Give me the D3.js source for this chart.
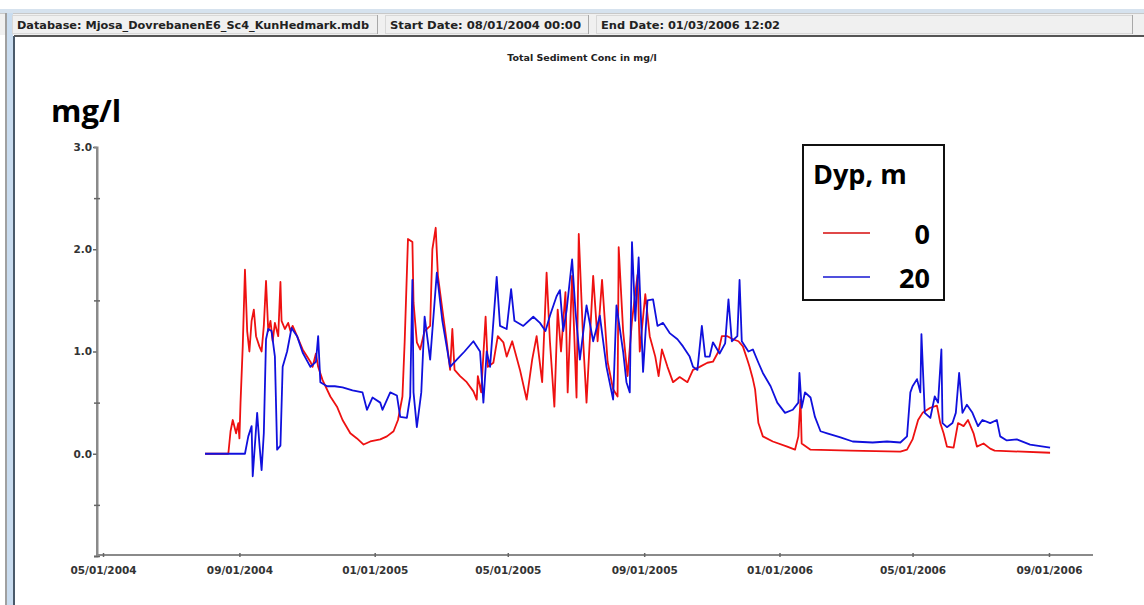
<!DOCTYPE html>
<html><head><meta charset="utf-8">
<script src="https://cdn.jsdelivr.net/npm/d3@7"></script>
<style>
html,body{margin:0;padding:0;background:#fff;}
svg{display:block;}
</style></head>
<body>
<svg id="c" width="1144" height="605"></svg>
<script>
// ---- data (days since 08/01/2004, value in mg/l) ----
const startDate = Date.UTC(2004, 7, 1);
const redDays = [0,21,23,25,28,30,31,32,34,36,38,40,42,44,46,49,51,53,55,57,59,61,63,66,68,69,72,75,77,79,83,88,95,97,100,102,106,113,119,124,131,137,143,149,158,164,170,174,178,180,183,187,188,191,194,198,203,205,208,210,214,218,221,223,225,230,236,242,245,246,249,253,255,260,264,269,272,277,284,290,295,299,304,308,311,315,318,321,325,327,331,335,337,341,344,350,354,358,363,368,372,373,377,381,385,390,392,397,401,406,409,412,417,422,428,435,440,446,453,458,463,466,471,476,481,485,489,491,494,496,499,503,512,525,532,535,537,538,546,582,627,633,638,643,647,654,660,663,666,669,675,679,684,688,693,696,702,708,712,762];
const redValues = [0,0,0.22,0.33,0.2,0.3,0.15,0.5,1.05,1.8,1.2,1.0,1.3,1.41,1.15,1.05,1.0,1.25,1.69,1.2,1.3,1.1,1.28,1.15,1.68,1.3,1.22,1.28,1.2,1.25,1.15,1.02,0.9,0.85,0.98,0.85,0.72,0.56,0.46,0.33,0.2,0.15,0.09,0.12,0.14,0.17,0.22,0.33,0.56,1.09,2.1,2.07,1.48,1.09,1.02,1.2,1.25,2.0,2.21,1.74,1.41,1.09,0.82,1.22,0.82,0.76,0.7,0.61,0.53,0.76,0.6,1.34,0.85,0.89,1.15,1.09,0.95,1.1,0.82,0.53,0.92,1.15,0.7,1.77,1.1,0.46,1.41,1.0,1.58,0.6,1.74,0.55,2.15,1.1,0.5,1.74,1.1,1.7,0.9,0.63,0.56,2.02,1.2,0.76,1.3,1.75,1.0,1.56,1.15,0.95,0.76,1.02,0.85,0.7,0.75,0.7,0.82,0.85,0.89,0.9,1.0,1.15,1.15,1.12,1.1,1.05,0.92,0.85,0.73,0.63,0.3,0.17,0.12,0.07,0.04,0.17,0.53,0.1,0.04,0.03,0.02,0.04,0.14,0.33,0.4,0.45,0.47,0.3,0.2,0.07,0.06,0.3,0.27,0.33,0.2,0.07,0.1,0.05,0.03,0.01];
const blueDays = [0,36,39,42,43,47,49,51,53,55,57,60,63,65,68,70,74,78,83,88,95,100,102,104,110,117,124,133,142,146,151,158,160,167,173,176,182,185,187,188,191,195,198,203,209,214,221,227,234,242,248,251,254,257,263,266,272,276,279,287,296,302,307,311,317,320,323,326,331,334,338,344,350,356,362,368,371,377,380,383,385,388,391,395,399,404,408,413,419,426,431,437,440,444,448,451,455,458,464,469,472,475,480,482,484,490,494,499,503,510,516,523,530,535,536,538,541,546,550,555,561,573,584,602,615,627,633,636,638,642,645,646,649,654,658,661,664,665,669,674,677,680,683,687,692,697,701,708,714,717,723,732,744,762];
const blueValues = [0,0,0.17,0.27,-0.22,0.4,0.1,-0.16,0.2,1.12,1.22,1.2,0.95,0.04,0.08,0.85,1.0,1.23,1.15,0.99,0.85,0.9,1.15,0.7,0.66,0.66,0.65,0.62,0.6,0.43,0.55,0.5,0.43,0.6,0.57,0.36,0.35,0.56,1.7,0.6,0.26,0.6,1.34,0.92,1.77,1.3,0.85,0.92,1.0,1.1,1.0,0.5,1.0,0.85,1.73,1.25,1.22,1.61,1.3,1.25,1.34,1.28,1.2,1.35,1.54,1.6,1.2,1.4,1.9,1.4,0.92,1.45,1.1,1.35,0.85,0.53,1.45,1.0,0.7,0.6,2.07,1.3,1.92,0.8,1.5,1.51,1.25,1.28,1.18,1.12,1.05,0.95,0.85,0.82,1.25,0.95,0.95,1.09,0.98,1.08,1.51,1.1,1.15,1.7,1.1,1.0,1.02,0.89,0.79,0.66,0.5,0.4,0.43,0.5,0.79,0.45,0.6,0.55,0.36,0.22,0.2,0.16,0.12,0.11,0.12,0.11,0.17,0.6,0.66,0.73,0.6,1.17,0.4,0.35,0.56,0.5,1.02,0.3,0.26,0.3,0.4,0.79,0.4,0.48,0.4,0.27,0.33,0.3,0.33,0.17,0.13,0.14,0.09,0.06];
const yMajorTicks = [0, 1, 2, 3];
const yMinorTicks = [-1, -0.5, 0.5, 1.5, 2.5];
const xTickDates = ["2004-05-01","2004-09-01","2005-01-01","2005-05-01","2005-09-01","2006-01-01","2006-05-01","2006-09-01"];
const xTickLabels = ["05/01/2004","09/01/2004","01/01/2005","05/01/2005","09/01/2005","01/01/2006","05/01/2006","09/01/2006"];
const seriesNames = ["0", "20"];
const seriesColors = ["#ee1111", "#1010dd"];
const legendColors = ["#e04848", "#5050dd"];
const statusTexts = ["Database: Mjosa_DovrebanenE6_Sc4_KunHedmark.mdb", "Start Date: 08/01/2004 00:00", "End Date: 01/03/2006 12:02"];
const chartTitle = "Total Sediment Conc in mg/l";
const unitLabel = "mg/l";
const legendTitle = "Dyp, m";

const svg = d3.select("#c");
const toDate = d => new Date(startDate + d * 864e5);

// ---- window frame ----
svg.append("rect").attr("x",0).attr("y",0).attr("width",1144).attr("height",605).attr("fill","#fff");
svg.append("rect").attr("x",0).attr("y",9).attr("width",1144).attr("height",4).attr("fill","#d6e2ee");
svg.append("rect").attr("x",0).attr("y",13).attr("width",1144).attr("height",22).attr("fill","#f0f0f0");
svg.append("line").attr("x1",0).attr("x2",1144).attr("y1",13.5).attr("y2",13.5).attr("stroke","#c8c8c8");
svg.append("line").attr("x1",14).attr("x2",1144).attr("y1",36).attr("y2",36).attr("stroke","#555").attr("stroke-width",2);
// left frame
svg.append("rect").attr("x",5).attr("y",13).attr("width",2).attr("height",592).attr("fill","#a0a0a0");
svg.append("rect").attr("x",7).attr("y",13).attr("width",6).attr("height",592).attr("fill","#c9dcef");
svg.append("rect").attr("x",13).attr("y",36).attr("width",2).attr("height",569).attr("fill","#4a5a6a");
// status panels
const panelX = [12, 385, 596];
const panelW = [369, 207, 540];
panelX.forEach((px, i) => {
  svg.append("rect").attr("x",px+0.5).attr("y",15.5).attr("width",panelW[i]-4).attr("height",18)
    .attr("fill","none").attr("stroke","#d8d8d8");
  svg.append("line").attr("x1",px+panelW[i]-3.5).attr("x2",px+panelW[i]-3.5).attr("y1",15).attr("y2",34).attr("stroke","#a8a8a8");
  svg.append("text").attr("x",px+5).attr("y",29).text(statusTexts[i])
    .attr("font-family","DejaVu Sans").attr("font-weight","bold").attr("font-size",10.5)
    .attr("fill","#222").attr("textLength", i===0?352:(i===1?191:179)).attr("lengthAdjust","spacingAndGlyphs");
});

// ---- scales ----
const x = d3.scaleUtc()
  .domain([new Date(Date.UTC(2004,3,25,14)), new Date(Date.UTC(2006,9,10,17))])
  .range([97, 1093]);
const y = d3.scaleLinear().domain([-1, 3]).range([556, 147]);

// title & unit
svg.append("text").attr("x",582).attr("y",61).attr("text-anchor","middle").text(chartTitle)
  .attr("font-family","DejaVu Sans").attr("font-weight","bold").attr("font-size",9.5).attr("fill","#222");
svg.append("text").attr("x",51).attr("y",122).text(unitLabel)
  .attr("font-family","Open Sans").attr("font-weight","bold").attr("font-size",31).attr("fill","#000");

// ---- axes ----
const axisColor = "#8a8a8a";
const gy = svg.append("g").attr("transform","translate(97,0)")
  .call(d3.axisLeft(y).tickValues(yMajorTicks).tickFormat(d3.format(".1f")).tickSize(4).tickPadding(1));
const gyMinor = svg.append("g").attr("transform","translate(97,0)")
  .call(d3.axisLeft(y).tickValues(yMinorTicks).tickFormat("").tickSize(3));
gyMinor.selectAll(".tick line").attr("x2",3).attr("x1",-3);
const gx = svg.append("g").attr("transform","translate(0,555)")
  .call(d3.axisBottom(x).tickValues(xTickDates.map(s => new Date(s+"T00:00:00Z")))
        .tickFormat((d,i) => xTickLabels[i]).tickSize(3).tickPadding(9));
gx.selectAll(".tick line").attr("y1",-2).attr("y2",2);
[gy, gyMinor, gx].forEach(g => {
  g.select(".domain").attr("stroke",axisColor).attr("stroke-width",2);
  g.selectAll(".tick line").attr("stroke","#666").attr("stroke-width",1.5);
  g.selectAll("text").attr("font-family","DejaVu Sans").attr("font-weight","bold")
    .attr("font-size",10.5).attr("fill","#333");
});
gy.select(".domain").attr("d","M0,147V556");
gx.select(".domain").attr("d","M97,0H1093");

// ---- lines ----
const line = d3.line().x(d => x(toDate(d[0]))).y(d => y(d[1]));
const redData = redDays.map((d,i) => [d, redValues[i]]);
const blueData = blueDays.map((d,i) => [d, blueValues[i]]);
svg.append("path").datum(redData).attr("d",line).attr("fill","none")
  .attr("stroke",seriesColors[0]).attr("stroke-width",1.8).attr("stroke-linejoin","round");
svg.append("path").datum(blueData).attr("d",line).attr("fill","none")
  .attr("stroke",seriesColors[1]).attr("stroke-width",1.8).attr("stroke-linejoin","round");

// ---- legend ----
const lg = svg.append("g");
lg.append("rect").attr("x",803).attr("y",145).attr("width",141).attr("height",155)
  .attr("fill","#fff").attr("stroke","#111").attr("stroke-width",2);
lg.append("text").attr("x",813).attr("y",184).text(legendTitle)
  .attr("font-family","Open Sans").attr("font-weight","bold").attr("font-size",27).attr("fill","#000");
const legY = [233, 277];
seriesNames.forEach((n,i) => {
  lg.append("line").attr("x1",823).attr("x2",870).attr("y1",legY[i]).attr("y2",legY[i])
    .attr("stroke",legendColors[i]).attr("stroke-width",2.2);
  lg.append("text").attr("x",930).attr("y",legY[i]+11).attr("text-anchor","end").text(n)
    .attr("font-family","Open Sans").attr("font-weight","bold").attr("font-size",27).attr("fill","#000");
});
</script>
</body></html>
